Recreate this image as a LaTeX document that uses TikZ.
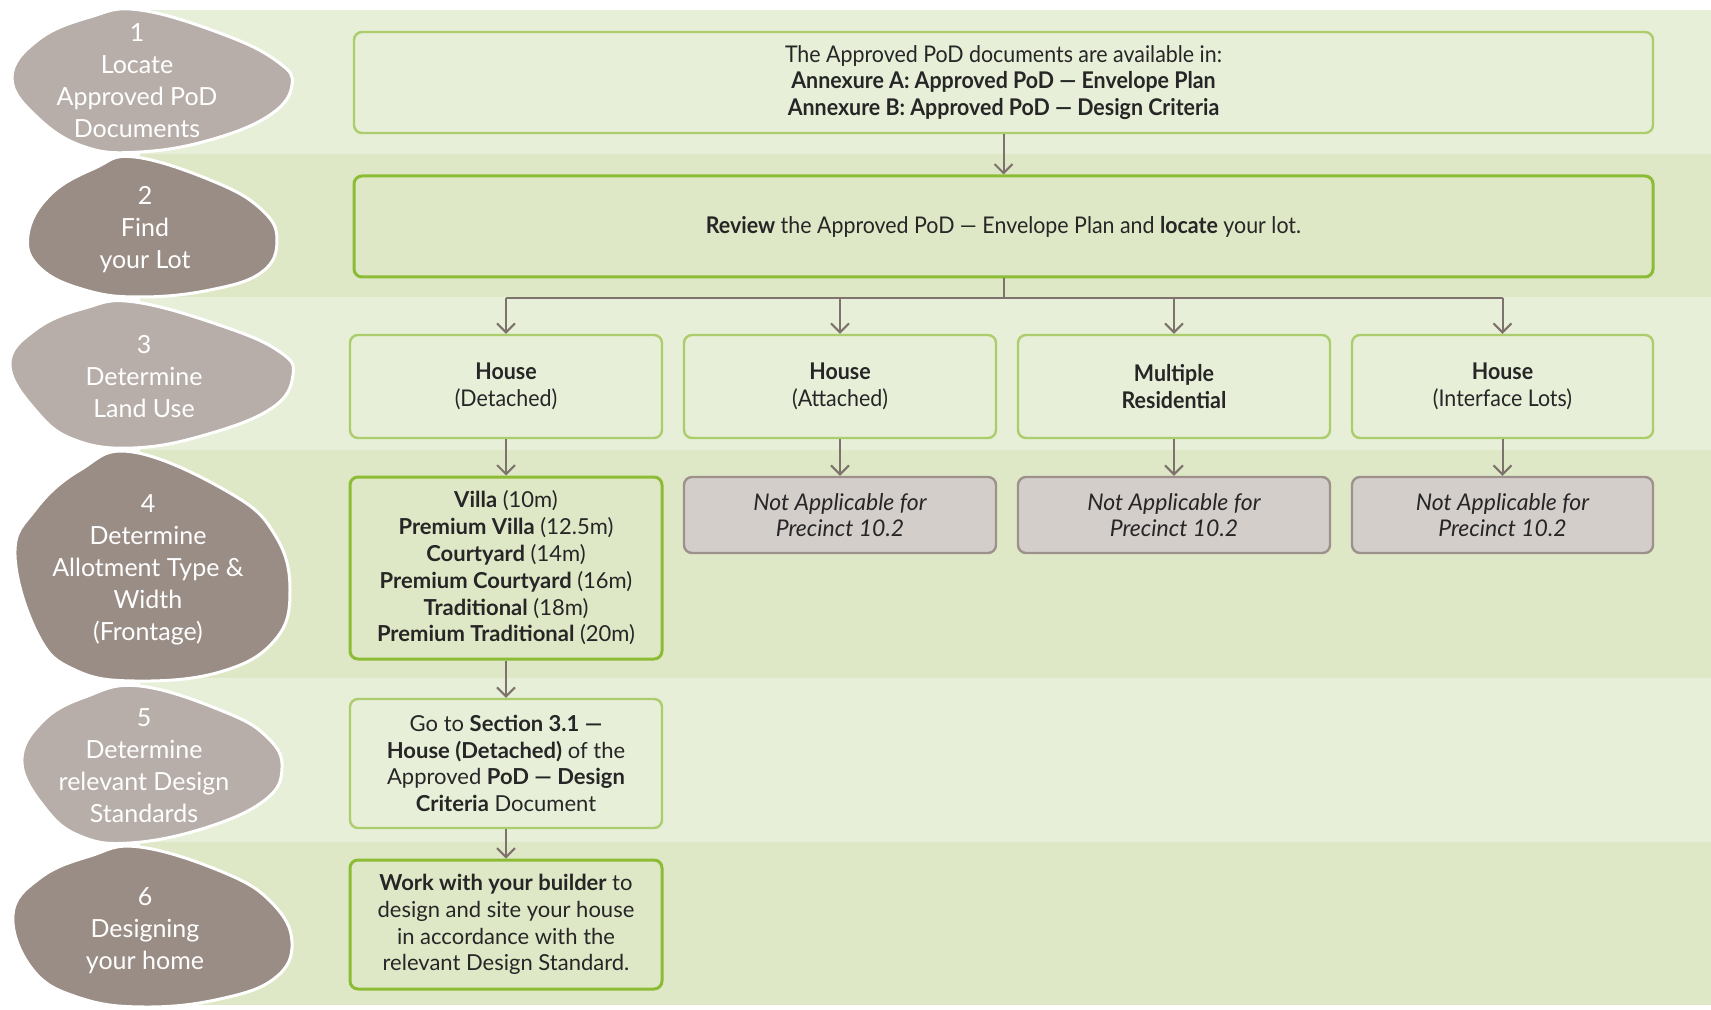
\documentclass[tikz,border=0pt]{standalone}
\usepackage{fontspec}
\setmainfont{Lato}
\newfontfamily\condfont{Lato}[FakeStretch=0.93]
\usetikzlibrary{positioning,arrows.meta}
\definecolor{bandA}{HTML}{E7EFD8}
\definecolor{bandB}{HTML}{DFE8C6}
\definecolor{greenA}{HTML}{ABCD6C}
\definecolor{greenB}{HTML}{8CBB35}
\definecolor{greyfill}{HTML}{D4CECB}
\definecolor{greyline}{HTML}{9D918B}
\definecolor{blobA}{HTML}{B7AEA9}
\definecolor{blobB}{HTML}{9A8D86}
\definecolor{arrowc}{HTML}{7E726C}
\definecolor{txt}{HTML}{262626}
\begin{document}
\begin{tikzpicture}[x=0.5pt, y=-0.5pt,
    box/.style={draw=greenA, fill=bandA, line width=1.2pt, rounded corners=4pt, align=center,
      inner sep=0pt, text=txt, font=\condfont\fontsize{11.5}{13.3}\selectfont},
    boxB/.style={box, draw=greenB, fill=bandB, line width=1.5pt},
    boxna/.style={box, draw=greyline, fill=greyfill, font=\itshape\fontsize{11.5}{13.3}\selectfont},
    plain/.style={font=\fontsize{11}{13.4}\selectfont},
    blob/.style={draw=white, line width=1.5pt},
    blobtext/.style={text=white, align=center, font=\fontsize{12.5}{16}\selectfont},
    arr/.style={-{Straight Barb[length=4.5pt,width=9pt]}, arrowc, line width=1pt}]
    \useasboundingbox (0,0) rectangle (1711,1010);
    \fill[white] (0,0) rectangle (1711,1010);
    \foreach \ya/\yb/\c in {10/154/bandA, 154/297/bandB, 297/450/bandA, 450/678/bandB, 678/842/bandA, 842/1005/bandB}
    \fill[\c] (140,\ya) rectangle (1711,\yb);

    % steps
    \filldraw[blob, fill=blobA] plot[smooth cycle, tension=0.7] coordinates {(12,78) (38,40) (90,17) (140,10) (225,35) (278,62) (292,85) (270,115) (210,140) (140,152) (85,147) (38,118)};
    \filldraw[blob, fill=blobB] plot[smooth cycle, tension=0.7] coordinates {(28,235) (50,195) (95,168) (135,157) (215,182) (262,210) (277,240) (262,272) (210,290) (140,297) (85,290) (40,268)};
    \filldraw[blob, fill=blobA] plot[smooth cycle, tension=0.7] coordinates {(10,365) (35,330) (85,308) (135,302) (225,327) (280,352) (293,375) (272,408) (205,435) (133,448) (75,440) (37,412)};
    \filldraw[blob, fill=blobB] plot[smooth cycle, tension=0.7] coordinates {(15,555) (35,510) (80,470) (133,452) (230,493) (275,535) (290,590) (275,640) (220,672) (135,681) (75,670) (38,635)};
    \filldraw[blob, fill=blobA] plot[smooth cycle, tension=0.7] coordinates {(22,762) (42,722) (85,697) (140,686) (225,712) (268,738) (282,768) (265,800) (205,828) (130,843) (80,836) (45,808)};
    \filldraw[blob, fill=blobB] plot[smooth cycle, tension=0.7] coordinates {(13,915) (40,878) (90,856) (140,847) (225,873) (272,903) (292,942) (275,978) (220,999) (145,1007) (80,998) (33,970)};

    \node[blobtext] (s1) at (137,81) {1\\Locate\\Approved PoD\\Documents};
    \node[blobtext] (s2) at (145,230) {2\\Find\\your Lot};
    \node[blobtext] (s3) at (144,377) {3\\Determine\\Land Use};
    \node[blobtext] (s4) at (148,570) {4\\Determine\\Allotment Type \&\\Width\\(Frontage)};
    \node[blobtext] (s5) at (144,766) {5\\Determine\\relevant Design\\Standards};
    \node[blobtext] (s6) at (145,931) {6\\Designing\\your home};

    % flow
    \node[box, minimum width=649.5pt, minimum height=50.5pt] (docs) at (1003.5,82.5)
      {The Approved PoD documents are available in:\\\textbf{Annexure A: Approved PoD — Envelope Plan}\\\textbf{Annexure B: Approved PoD — Design Criteria}};
    \node[boxB, minimum width=649.5pt, minimum height=50.5pt] (lot) at (1003.5,226.5)
      {\textbf{Review} the Approved PoD — Envelope Plan and \textbf{locate} your lot.};

    \node[box, minimum width=156pt, minimum height=51.5pt] (det) at (506,386.5) {\textbf{House}\\(Detached)};
    \node[box, minimum width=156pt, minimum height=51.5pt] (att) at (840,386.5) {\textbf{House}\\(Attached)};
    \node[box, minimum width=156pt, minimum height=51.5pt] (mul) at (1174,386.5) {\textbf{Multiple}\\\textbf{Residential}};
    \node[box, minimum width=150.5pt, minimum height=51.5pt] (ifl) at (1502.5,386.5) {\textbf{House}\\(Interface Lots)};

    \node[boxB, plain, minimum width=156pt, minimum height=91pt] (types) at (506,568)
      {\textbf{Villa} (10m)\\\textbf{Premium Villa} (12.5m)\\\textbf{Courtyard} (14m)\\\textbf{Premium Courtyard} (16m)\\\textbf{Traditional} (18m)\\\textbf{Premium Traditional} (20m)};
    \node[boxna, minimum width=156pt, minimum height=38pt] (na1) at (840,515) {Not Applicable for\\Precinct 10.2};
    \node[boxna, minimum width=156pt, minimum height=38pt] (na2) at (1174,515) {Not Applicable for\\Precinct 10.2};
    \node[boxna, minimum width=150.5pt, minimum height=38pt] (na3) at (1502.5,515) {Not Applicable for\\Precinct 10.2};

    \node[box, plain, minimum width=156pt, minimum height=64.5pt] (sect) at (506,763.5)
      {Go to \textbf{Section 3.1 —}\\\textbf{House (Detached)} of the\\Approved \textbf{PoD — Design}\\\textbf{Criteria} Document};
    \node[boxB, plain, minimum width=156pt, minimum height=64.5pt] (work) at (506,924.5)
      {\textbf{Work with your builder} to\\design and site your house\\in accordance with the\\relevant Design Standard.};

    \draw[arr] (docs) -- (lot);
    \draw[arrowc, line width=1pt] (lot.south) -- ++(0,20) coordinate (split);
    \draw[arrowc, line width=1pt] (split -| det.north) -- (split -| ifl.north);
    \foreach \n in {det,att,mul,ifl}
    \draw[arr] (split -| \n.north) -- (\n.north);
    \foreach \a/\b in {det/types, att/na1, mul/na2, ifl/na3, types/sect, sect/work}
    \draw[arr] (\a) -- (\b);
\end{tikzpicture}
\end{document}
